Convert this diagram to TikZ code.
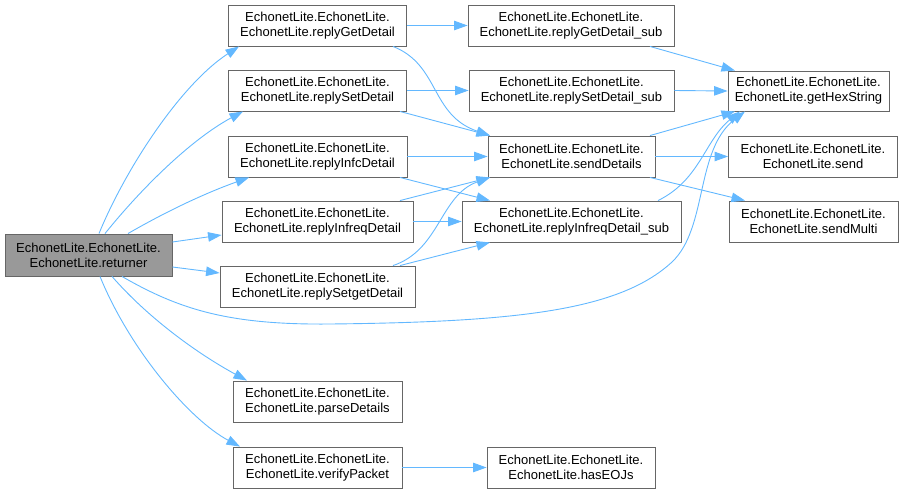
\documentclass[tikz,border=0pt]{standalone}
\usepackage{fontspec}
\setmainfont{Liberation Sans}
\usetikzlibrary{arrows.meta}
\definecolor{edgec}{HTML}{63B8FF}
\definecolor{bordc}{HTML}{666666}
\definecolor{rootf}{HTML}{999999}
\begin{document}
\begin{tikzpicture}[x=1pt,y=-1pt,
  box/.style={draw=bordc, line width=0.9pt, fill=white, inner sep=0pt, minimum height=41pt, align=center, font=\fontsize{13}{15}\selectfont},
  link/.style={draw=edgec, line width=0.9pt, -{Triangle[length=13.5pt,width=9.5pt]}}]
\useasboundingbox (0,0) rectangle (904,493);
% nodes
\node[box, fill=rootf, minimum width=167pt, minimum height=42pt] (r) at (88.5,255) {EchonetLite.EchonetLite.\\EchonetLite.returner};
\node[box, minimum width=178pt] (gd) at (317.5,25.5) {EchonetLite.EchonetLite.\\EchonetLite.replyGetDetail};
\node[box, minimum width=178pt] (sd) at (317.5,90.5) {EchonetLite.EchonetLite.\\EchonetLite.replySetDetail};
\node[box, minimum width=179pt] (id) at (317.5,156.5) {EchonetLite.EchonetLite.\\EchonetLite.replyInfcDetail};
\node[box, minimum width=191pt] (iq) at (317.5,221.5) {EchonetLite.EchonetLite.\\EchonetLite.replyInfreqDetail};
\node[box, minimum width=195pt] (sg) at (317.5,286.5) {EchonetLite.EchonetLite.\\EchonetLite.replySetgetDetail};
\node[box, minimum width=169pt] (pd) at (317.5,401.5) {EchonetLite.EchonetLite.\\EchonetLite.parseDetails};
\node[box, minimum width=169pt] (vp) at (317.5,467.5) {EchonetLite.EchonetLite.\\EchonetLite.verifyPacket};
\node[box, minimum width=206pt] (gds) at (571,25.5) {EchonetLite.EchonetLite.\\EchonetLite.replyGetDetail\_sub};
\node[box, minimum width=205pt] (sds) at (571.5,90.5) {EchonetLite.EchonetLite.\\EchonetLite.replySetDetail\_sub};
\node[box, minimum width=167pt] (sdt) at (571.5,156.5) {EchonetLite.EchonetLite.\\EchonetLite.sendDetails};
\node[box, minimum width=219pt] (iqs) at (571.5,221.5) {EchonetLite.EchonetLite.\\EchonetLite.replyInfreqDetail\_sub};
\node[box, minimum width=168pt] (he) at (571,467.5) {EchonetLite.EchonetLite.\\EchonetLite.hasEOJs};
\node[box, minimum width=161pt, minimum height=40pt] (hx) at (808.5,91) {EchonetLite.EchonetLite.\\EchonetLite.getHexString};
\node[box, minimum width=169pt] (snd) at (813,156.5) {EchonetLite.EchonetLite.\\EchonetLite.send};
\node[box, minimum width=169pt] (sm) at (813.5,221.5) {EchonetLite.EchonetLite.\\EchonetLite.sendMulti};
% edges from returner
\draw[link] ([xshift=10.5pt]r.north) .. controls (125,170) and (180,85) .. ([xshift=-78.5pt]gd.south);
\draw[link] ([xshift=16.5pt]r.north) .. controls (140,190) and (190,140) .. ([xshift=-74.5pt]sd.south);
\draw[link] ([xshift=39.5pt]r.north) .. controls (160,215) and (200,195) .. ([xshift=-68.5pt]id.south);
\draw[link] ([yshift=13pt]r.east) -- ([yshift=-13.5pt]iq.west);
\draw[link] ([yshift=-12pt]r.east) -- ([yshift=13.5pt]sg.west);
\draw[link] ([xshift=33.5pt]r.south) .. controls (180,310) and (230,325) .. (330,324)
  .. controls (520,322) and (620,310) .. (672,262)
  .. controls (708,228) and (695,150) .. ([xshift=-63.5pt]hx.south);
\draw[link] ([xshift=23.5pt]r.south) .. controls (150,320) and (200,355) .. ([xshift=-70.5pt]pd.north);
\draw[link] ([xshift=11.5pt]r.south) .. controls (130,350) and (190,420) .. ([xshift=-77.5pt]vp.north);
% second column
\draw[link] (gd.east) -- (gds.west);
\draw[link] ([xshift=75.5pt]gd.south) .. controls (440,65) and (430,115) .. ([xshift=-81.5pt]sdt.north);
\draw[link] (sd.east) -- (sds.west);
\draw[link] ([xshift=82.5pt]sd.south) -- ([xshift=-81.5pt]sdt.north);
\draw[link] (id.east) -- (sdt.west);
\draw[link] ([xshift=82.5pt]id.south) -- ([xshift=-81.5pt]iqs.north);
\draw[link] ([xshift=82.5pt]iq.north) -- ([xshift=-81.5pt]sdt.south);
\draw[link] (iq.east) -- (iqs.west);
\draw[link] ([xshift=75.5pt]sg.north) .. controls (440,250) and (440,195) .. ([xshift=-81.5pt]sdt.south);
\draw[link] ([xshift=82.5pt]sg.north) -- ([xshift=-81.5pt]iqs.south);
\draw[link] (vp.east) -- (he.west);
% third column
\draw[link] ([xshift=79pt]gds.south) -- ([xshift=-73.5pt]hx.north);
\draw[link] (sds.east) -- (hx.west);
\draw[link] ([xshift=78.5pt]sdt.north) -- ([xshift=-73.5pt]hx.south);
\draw[link] (sdt.east) -- (snd.west);
\draw[link] ([xshift=78.5pt]sdt.south) -- ([xshift=-68.5pt]sm.north);
\draw[link] ([xshift=86.5pt]iqs.north) .. controls (700,180) and (705,140) .. ([xshift=-68.5pt]hx.south);
\end{tikzpicture}
\end{document}
